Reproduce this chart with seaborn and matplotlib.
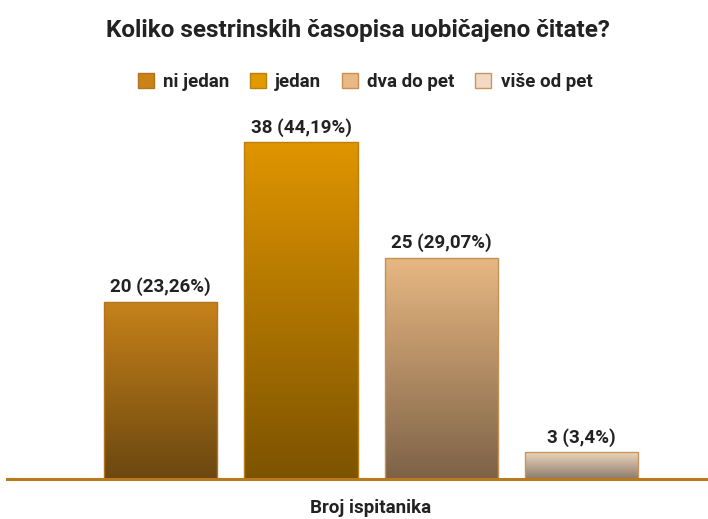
import numpy as np
import pandas as pd
import matplotlib
matplotlib.use("Agg")
import matplotlib.pyplot as plt
import matplotlib.colors as mcolors
from matplotlib import font_manager
import seaborn as sns

# Data
categories = ['ni jedan', 'jedan', 'dva do pet', 'više od pet']
counts = [20, 38, 25, 3]
labels = ['20 (23,26%)', '38 (44,19%)', '25 (29,07%)', '3 (3,4%)']

# colours: legend swatch, gradient top, gradient bottom, edge
legend_colors = ['#C98317', '#E29A00', '#EBB887', '#F2D9C3']
top_colors = ['#C7821A', '#E09500', '#E8B882', '#EDD5BC']
bottom_colors = ['#6B4710', '#7C5300', '#7D6247', '#8C7B6B']
edge_colors = ['#B27320', '#B97F10', '#C59155', '#C8965C']

df = pd.DataFrame({'cat': categories, 'n': counts})

sns.set_style("white")
installed = {f.name for f in font_manager.fontManager.ttflist}
fam = [f for f in ['Liberation Sans Narrow', 'Roboto', 'DejaVu Sans'] if f in installed]
plt.rcParams['font.family'] = fam
plt.rcParams['font.weight'] = 'bold'

fig = plt.figure(figsize=(7.08, 5.19), dpi=100)
ax = fig.add_axes([7 / 708, 40 / 519, 701 / 708, 369 / 519])

sns.barplot(data=df, x='cat', y='n', hue='cat', palette=legend_colors,
            width=0.806, legend=True, ax=ax, saturation=1)

# vertical gradient fill for each bar
for i, p in enumerate(ax.patches[:len(categories)]):
    x0, w, h = p.get_x(), p.get_width(), p.get_height()
    c_top = np.array(mcolors.to_rgba(top_colors[i]))
    c_bot = np.array(mcolors.to_rgba(bottom_colors[i]))
    t = np.linspace(0, 1, 256)[:, None, None]
    grad = c_bot * (1 - t) + c_top * t
    im = ax.imshow(grad, extent=[x0, x0 + w, 0, h], origin='lower',
                   aspect='auto', zorder=p.get_zorder() - 0.1,
                   interpolation='bilinear')
    im.set_clip_path(p)
    p.set_facecolor('none')
    p.set_edgecolor(edge_colors[i])
    p.set_linewidth(1.0)

for i, c in enumerate(ax.containers):
    ax.bar_label(c, labels=[labels[i]], padding=4, fontsize=13.5,
                 fontweight='bold', color='#222222')

ax.set_xlim(-1.095, 3.90)
ax.set_ylim(0, 41.65)
ax.set_xticks([])
ax.set_yticks([])
ax.set_xlabel('')
ax.set_ylabel('')
for s in ['top', 'left', 'right']:
    ax.spines[s].set_visible(False)
ax.spines['bottom'].set_color('#B97A1E')
ax.spines['bottom'].set_linewidth(2.2)

sns.move_legend(ax, 'center', bbox_to_anchor=((365 - 7) / 701, (479 - 82) / 369),
                ncol=4, frameon=False, title=None, fontsize=13.5,
                handlelength=0.85, handleheight=0.85, handletextpad=0.5,
                columnspacing=1.1)
leg = ax.get_legend()
for h, ec in zip(leg.legend_handles, edge_colors):
    h.set_edgecolor(ec)
    h.set_linewidth(1.0)
for t in leg.get_texts():
    t.set_color('#222222')

fig.text(357.5 / 708, 1 - 30 / 519, 'Koliko sestrinskih časopisa uobičajeno čitate?',
         ha='center', va='center', fontsize=17.5, fontweight='bold', color='#222222')
fig.text(371 / 708, 1 - 508 / 519, 'Broj ispitanika', ha='center', va='center',
         fontsize=13.5, fontweight='bold', color='#222222')

fig.savefig('out.png', dpi=100)
